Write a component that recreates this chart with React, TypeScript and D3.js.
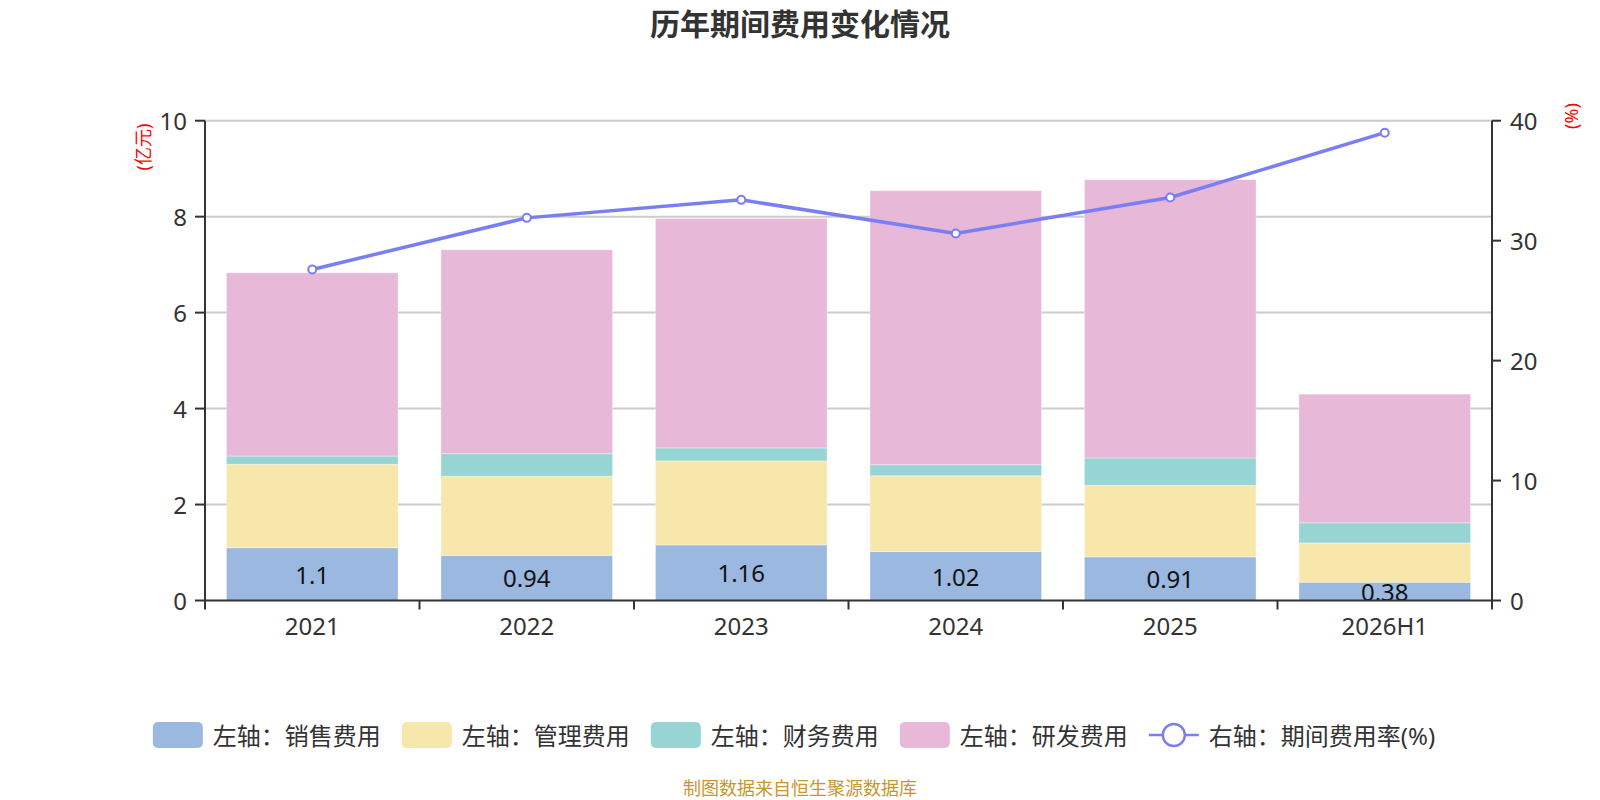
import React, { useEffect, useRef } from 'react';
import * as d3 from 'd3';

const categories = ['2021', '2022', '2023', '2024', '2025', '2026H1'];
const salesExpense = [1.1, 0.94, 1.16, 1.02, 0.91, 0.38];
const adminExpense = [1.74, 1.65, 1.75, 1.58, 1.49, 0.82];
const financeExpense = [0.17, 0.47, 0.27, 0.23, 0.57, 0.42];
const rdExpense = [3.82, 4.25, 4.78, 5.71, 5.8, 2.68];
const expenseRate = [27.6, 31.9, 33.4, 30.6, 33.6, 39.0];
const leftTicks = [0, 2, 4, 6, 8, 10];
const rightTicks = [0, 10, 20, 30, 40];

const barSeries = [
  { name: '左轴：销售费用', color: '#9bb8e1', values: salesExpense, label: true },
  { name: '左轴：管理费用', color: '#f8e7aa', values: adminExpense, label: false },
  { name: '左轴：财务费用', color: '#97d4d4', values: financeExpense, label: false },
  { name: '左轴：研发费用', color: '#e7b8d8', values: rdExpense, label: false },
];
const lineName = '右轴：期间费用率(%)';
const lineColor = '#7a7ef5';

const FONT = '"Noto Sans", "Noto Sans CJK SC", sans-serif';

export default function App() {
  const svgRef = useRef<SVGSVGElement>(null);

  useEffect(() => {
    if (!svgRef.current) return;
    const width = 1600;
    const height = 800;
    const margin = { top: 120.7, right: 108, bottom: 199.5, left: 205 };
    const plotBottom = height - margin.bottom;
    const plotRight = width - margin.right;

    const svg = d3.select(svgRef.current);
    svg.selectAll('*').remove();
    svg.attr('width', width).attr('height', height);

    const x = d3
      .scaleBand()
      .domain(categories)
      .range([margin.left, plotRight])
      .paddingInner(0.2)
      .paddingOuter(0.1);
    const step = x.step();
    const yLeft = d3.scaleLinear().domain([0, 10]).range([plotBottom, margin.top]);
    const yRight = d3.scaleLinear().domain([0, 40]).range([plotBottom, margin.top]);

    // Title
    svg
      .append('text')
      .attr('x', width / 2)
      .attr('y', 23)
      .attr('text-anchor', 'middle')
      .attr('dominant-baseline', 'central')
      .attr('font-family', FONT)
      .attr('font-size', 30)
      .attr('font-weight', 'bold')
      .attr('fill', '#333')
      .text('历年期间费用变化情况');

    // Grid lines
    svg
      .append('g')
      .selectAll('line')
      .data(leftTicks.filter(t => t > 0))
      .enter()
      .append('line')
      .attr('x1', margin.left)
      .attr('x2', plotRight)
      .attr('y1', d => yLeft(d))
      .attr('y2', d => yLeft(d))
      .attr('stroke', '#cccccc')
      .attr('stroke-width', 2);

    // Stacked bars
    const stackBase = categories.map(() => 0);
    barSeries.forEach(s => {
      const g = svg.append('g');
      const rows = s.values.map((v, i) => ({ cat: categories[i], v, base: stackBase[i] }));
      g.selectAll('rect')
        .data(rows)
        .enter()
        .append('rect')
        .attr('x', d => x(d.cat)!)
        .attr('width', x.bandwidth())
        .attr('y', d => yLeft(d.base + d.v))
        .attr('height', d => yLeft(d.base) - yLeft(d.base + d.v))
        .attr('fill', s.color)
        .attr('stroke', '#ffffff')
        .attr('stroke-opacity', 0.35)
        .attr('stroke-width', 1);
      if (s.label) {
        g.selectAll('text')
          .data(rows)
          .enter()
          .append('text')
          .attr('x', d => x(d.cat)! + x.bandwidth() / 2)
          .attr('y', d => yLeft(d.base + d.v / 2))
          .attr('text-anchor', 'middle')
          .attr('dominant-baseline', 'central')
          .attr('font-family', FONT)
          .attr('font-size', 24)
          .attr('fill', '#111')
          .text(d => String(d.v));
      }
      s.values.forEach((v, i) => (stackBase[i] += v));
    });

    // Axes lines
    const axisColor = '#333';
    svg
      .append('line')
      .attr('x1', margin.left)
      .attr('x2', margin.left)
      .attr('y1', margin.top)
      .attr('y2', plotBottom)
      .attr('stroke', axisColor)
      .attr('stroke-width', 2);
    svg
      .append('line')
      .attr('x1', plotRight)
      .attr('x2', plotRight)
      .attr('y1', margin.top)
      .attr('y2', plotBottom)
      .attr('stroke', axisColor)
      .attr('stroke-width', 2);
    svg
      .append('line')
      .attr('x1', margin.left - 1)
      .attr('x2', plotRight + 1)
      .attr('y1', plotBottom)
      .attr('y2', plotBottom)
      .attr('stroke', axisColor)
      .attr('stroke-width', 2);

    // Left axis ticks + labels
    const left = svg.append('g');
    left
      .selectAll('line')
      .data(leftTicks)
      .enter()
      .append('line')
      .attr('x1', margin.left - 10)
      .attr('x2', margin.left)
      .attr('y1', d => yLeft(d))
      .attr('y2', d => yLeft(d))
      .attr('stroke', axisColor)
      .attr('stroke-width', 2);
    left
      .selectAll('text')
      .data(leftTicks)
      .enter()
      .append('text')
      .attr('x', margin.left - 18)
      .attr('y', d => yLeft(d))
      .attr('text-anchor', 'end')
      .attr('dominant-baseline', 'central')
      .attr('font-family', FONT)
      .attr('font-size', 24)
      .attr('fill', '#333')
      .text(d => String(d));

    // Right axis ticks + labels
    const right = svg.append('g');
    right
      .selectAll('line')
      .data(rightTicks)
      .enter()
      .append('line')
      .attr('x1', plotRight)
      .attr('x2', plotRight + 9)
      .attr('y1', d => yRight(d))
      .attr('y2', d => yRight(d))
      .attr('stroke', axisColor)
      .attr('stroke-width', 2);
    right
      .selectAll('text')
      .data(rightTicks)
      .enter()
      .append('text')
      .attr('x', plotRight + 18)
      .attr('y', d => yRight(d))
      .attr('text-anchor', 'start')
      .attr('dominant-baseline', 'central')
      .attr('font-family', FONT)
      .attr('font-size', 24)
      .attr('fill', '#333')
      .text(d => String(d));

    // X axis ticks at category boundaries + labels
    const boundaries = categories.map(c => x(c)! - step * 0.1).concat([plotRight]);
    const bottom = svg.append('g');
    bottom
      .selectAll('line')
      .data(boundaries)
      .enter()
      .append('line')
      .attr('x1', d => d)
      .attr('x2', d => d)
      .attr('y1', plotBottom)
      .attr('y2', plotBottom + 9)
      .attr('stroke', axisColor)
      .attr('stroke-width', 2);
    bottom
      .selectAll('text')
      .data(categories)
      .enter()
      .append('text')
      .attr('x', d => x(d)! + x.bandwidth() / 2)
      .attr('y', plotBottom + 25)
      .attr('text-anchor', 'middle')
      .attr('dominant-baseline', 'central')
      .attr('font-family', FONT)
      .attr('font-size', 24)
      .attr('fill', '#333')
      .text(d => d);

    // Axis names
    svg
      .append('text')
      .attr('transform', `translate(143, 147) rotate(-90)`)
      .attr('text-anchor', 'middle')
      .attr('dominant-baseline', 'central')
      .attr('font-family', FONT)
      .attr('font-size', 18)
      .attr('fill', '#ff0000')
      .text('(亿元)');
    svg
      .append('text')
      .attr('transform', `translate(1571, 116) rotate(-90)`)
      .attr('text-anchor', 'middle')
      .attr('dominant-baseline', 'central')
      .attr('font-family', FONT)
      .attr('font-size', 18)
      .attr('fill', '#ff0000')
      .text('(%)');

    // Rate line
    const linePts = categories.map((c, i) => ({ cat: c, v: expenseRate[i] }));
    const lineGen = d3
      .line<{ cat: string; v: number }>()
      .x(d => x(d.cat)! + x.bandwidth() / 2)
      .y(d => yRight(d.v));
    svg
      .append('path')
      .datum(linePts)
      .attr('d', lineGen)
      .attr('fill', 'none')
      .attr('stroke', lineColor)
      .attr('stroke-width', 3.5);
    svg
      .append('g')
      .selectAll('circle')
      .data(linePts)
      .enter()
      .append('circle')
      .attr('cx', d => x(d.cat)! + x.bandwidth() / 2)
      .attr('cy', d => yRight(d.v))
      .attr('r', 4)
      .attr('fill', '#fff')
      .attr('stroke', lineColor)
      .attr('stroke-width', 2);

    // Legend
    const legendY = 735;
    const iconW = 50;
    const iconH = 26;
    const textGap = 10;
    const itemGap = 21;
    const legend = svg.append('g');
    const items = barSeries
      .map(s => ({ name: s.name, color: s.color, type: 'bar' }))
      .concat([{ name: lineName, color: lineColor, type: 'line' }]);
    const nodes = items.map(it => {
      const g = legend.append('g');
      if (it.type === 'bar') {
        g.append('rect')
          .attr('x', 0)
          .attr('y', legendY - iconH / 2)
          .attr('width', iconW)
          .attr('height', iconH)
          .attr('rx', 5)
          .attr('fill', it.color);
      } else {
        g.append('line')
          .attr('x1', 0)
          .attr('x2', iconW)
          .attr('y1', legendY)
          .attr('y2', legendY)
          .attr('stroke', it.color)
          .attr('stroke-width', 2.5);
        g.append('circle')
          .attr('cx', iconW / 2)
          .attr('cy', legendY)
          .attr('r', 11)
          .attr('fill', '#fff')
          .attr('stroke', it.color)
          .attr('stroke-width', 2.5);
      }
      const t = g
        .append('text')
        .attr('x', iconW + textGap)
        .attr('y', legendY)
        .attr('dominant-baseline', 'central')
        .attr('font-family', FONT)
        .attr('font-size', 24)
        .attr('fill', '#333')
        .text(it.name);
      const w = iconW + textGap + (t.node() as SVGTextElement).getComputedTextLength();
      return { g, w };
    });
    const total = d3.sum(nodes, n => n.w) + itemGap * (nodes.length - 1);
    let cursor = 794 - total / 2;
    nodes.forEach(n => {
      n.g.attr('transform', `translate(${cursor}, 0)`);
      cursor += n.w + itemGap;
    });

    // Source note
    svg
      .append('text')
      .attr('x', width / 2)
      .attr('y', 788)
      .attr('text-anchor', 'middle')
      .attr('dominant-baseline', 'central')
      .attr('font-family', FONT)
      .attr('font-size', 18)
      .attr('fill', '#c8962f')
      .text('制图数据来自恒生聚源数据库');
  }, []);

  return (
    <div style={{ position: 'absolute', left: 0, top: 0, width: 1600, height: 800, background: '#fff' }}>
      <svg ref={svgRef}></svg>
    </div>
  );
}
